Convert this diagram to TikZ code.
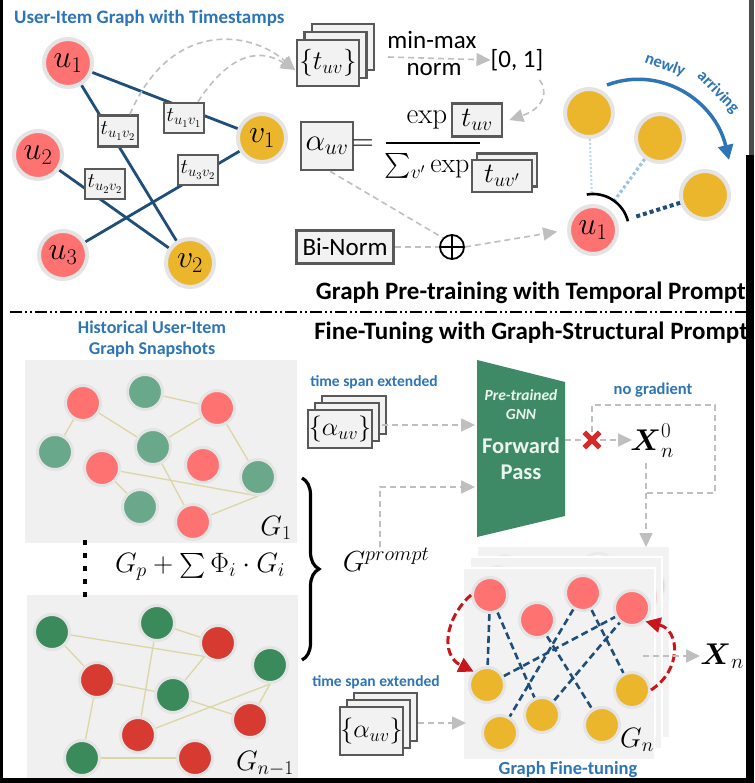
\RequirePackage{fix-cm}
\documentclass[tikz,border=0pt]{standalone}
\usepackage{amsmath}
\usepackage[no-math]{fontspec}
\setmainfont{Carlito}
\usetikzlibrary{arrows.meta,decorations.pathreplacing}
\definecolor{ured}{HTML}{FF7272}
\definecolor{vyel}{HTML}{EBB52C}
\definecolor{ringc}{HTML}{E4E4E4}
\definecolor{eblue}{HTML}{1F4E79}
\definecolor{boxc}{HTML}{595959}
\definecolor{boxf}{HTML}{F2F2F2}
\definecolor{dashc}{HTML}{BFBFBF}
\definecolor{tblue}{HTML}{2E75B6}
\definecolor{lblue}{HTML}{BDD7EE}
\definecolor{mblue}{HTML}{9DC3E6}
\definecolor{agreen}{HTML}{6AA88B}
\definecolor{bgreen}{HTML}{3A8A5C}
\definecolor{bred}{HTML}{D63A30}
\definecolor{panelc}{HTML}{F0F0F0}
\definecolor{gnnc}{HTML}{3F8A66}
\definecolor{khaki}{HTML}{DCD6A6}
\definecolor{dred}{HTML}{C8161C}
\definecolor{xred}{HTML}{D42A2A}
\definecolor{gnntext}{HTML}{EAF3EE}
\newcommand{\myfs}[1]{\fontsize{#1}{#1}\selectfont}
\pgfdeclarelayer{bg}\pgfdeclarelayer{edges}\pgfsetlayers{bg,edges,main}
\tikzset{
 ringnode/.style={circle, draw=ringc, inner sep=0pt},
 bignode/.style={ringnode, line width=4pt, minimum size=48pt, font=\myfs{32}},
 unode/.style={bignode, fill=ured},
 vnode/.style={bignode, fill=vyel},
 snode/.style={ringnode, line width=3pt, minimum size=35pt},
 ar/.style={snode, fill=ured},
 ag/.style={snode, fill=agreen},
 br/.style={snode, fill=bred},
 bg/.style={snode, fill=bgreen},
 yy/.style={snode, fill=vyel},
 ghost/.style={snode, fill=ured, opacity=0.35},
 ghostg/.style={snode, fill=white, opacity=0.6},
 tbox/.style={draw=boxc, fill=boxf, line width=2.5pt, inner sep=0pt},
 gdash/.style={draw=dashc, line width=1.6pt, dash pattern=on 6pt off 4pt},
 garrow/.style={gdash, -{Triangle[length=14pt,width=13pt,fill=dashc]}},
 bedge/.style={draw=eblue, line width=2.8pt},
 kedge/.style={draw=khaki, line width=1.3pt},
 dedge/.style={draw=eblue, line width=2.6pt, dash pattern=on 7pt off 4pt},
 rarrow/.style={draw=dred, line width=3pt, dash pattern=on 8pt off 4pt, -{Triangle[length=15pt,width=15pt,fill=dred]}},
 panel/.style={fill=panelc, inner sep=0pt, draw=none},
 gpanel/.style={fill=boxf, inner sep=0pt, draw=white, line width=1.2pt, minimum width=192pt, minimum height=192pt},
 bluetxt/.style={text=tblue, font=\bfseries\myfs{#1}, inner sep=0pt},
 head/.style={font=\bfseries\myfs{25}, inner sep=0pt, anchor=east},
 mathtxt/.style={font=\myfs{#1}, inner sep=0pt},
 gnntxt/.style={text=gnntext, inner sep=0pt}
}
\begin{document}
\begin{tikzpicture}[x=1pt,y=1pt]
\useasboundingbox (0,0) rectangle (754,-783);
\begin{pgfonlayer}{bg}
\fill[white] (0,0) rectangle (754,-783);
% snapshot panels
\node[panel, minimum width=272pt, minimum height=183pt] (p1) at (161,-451.5) {};
\node[panel, minimum width=271pt, minimum height=183pt] (p2) at (162.5,-686.5) {};
% G_n stacked panels
\node[gpanel] (pb) at (573.5,-642) {};
\node[ghost] (gh1) at (505,-573) {};
\node[ghostg] (gh2) at (598,-571) {};
\node[ghost] (gh3) at (647,-586) {};
\node[gpanel] (pm) at (566,-653) {};
\node[ghost] (gh4) at (497.5,-584) {};
\node[ghost] (gh5) at (639.5,-597) {};
\node[gpanel] (pf) at (559,-664) {};
\end{pgfonlayer}

% ---------------- top: user-item graph ----------------
\node[bluetxt=19, anchor=west] (title1) at (14,-18) {User-Item Graph with Timestamps};
\node[unode] (u1) at (68,-63) {$u_1$};
\node[unode] (u2) at (38,-155) {$u_2$};
\node[unode] (u3) at (63,-255) {$u_3$};
\node[vnode] (v1) at (262,-138) {$v_1$};
\node[vnode] (v2) at (190,-263) {$v_2$};
\begin{pgfonlayer}{edges}
\draw[bedge] (u1) -- (v1);
\draw[bedge] (u1) -- (v2);
\draw[bedge] (u2) -- (v2);
\draw[bedge] (u3) -- (v1);
\end{pgfonlayer}
\node[tbox, minimum width=40pt, minimum height=31pt, font=\myfs{21}] (tu1v2) at (118,-131) {$t_{u_1v_2}$};
\node[tbox, minimum width=40pt, minimum height=30pt, font=\myfs{21}] (tu1v1) at (184,-118) {$t_{u_1v_1}$};
\node[tbox, minimum width=40pt, minimum height=30pt, font=\myfs{21}] (tu2v2) at (105,-184) {$t_{u_2v_2}$};
\node[tbox, minimum width=40pt, minimum height=30pt, font=\myfs{21}] (tu3v2) at (198,-170) {$t_{u_3v_2}$};

% stack {t_uv}
\node[tbox, minimum width=62pt, minimum height=46pt] (ts3) at (343,-47) {};
\node[tbox, minimum width=62pt, minimum height=46pt] (ts2) at (335.5,-55) {};
\node[tbox, minimum width=62pt, minimum height=46pt, font=\myfs{27}] (ts1) at (328,-63) {$\{t_{uv}\}$};
\coordinate (tsin) at (295,-70);
\draw[garrow] ([xshift=12pt]tu1v2.north) .. controls (170,-20) and (250,-30) .. (tsin);
\draw[garrow] ([xshift=14pt]tu1v1.north) .. controls (225,-60) and (255,-45) .. (tsin);

\node[mathtxt=25] (minmax) at (432,-40) {min-max};
\node[mathtxt=25] (norm) at (434,-70) {norm};
\node[mathtxt=25] (zo) at (517,-60) {[0, 1]};
\coordinate (mm1) at (388,-57);
\draw[garrow] (mm1) -- (zo.west);

% alpha equation
\node[tbox, minimum width=52pt, minimum height=48pt, font=\myfs{31}] (alpha) at (327,-146) {$\alpha_{uv}$};
\node[mathtxt=30] (eq) at (363,-145) {$=$};
\node[mathtxt=29] (expn) at (427,-120) {$\exp$};
\node[tbox, minimum width=50pt, minimum height=33pt, font=\myfs{28}] (texp) at (477,-120) {$t_{uv}$};
\draw[line width=2.2pt] (386,-143) -- (480,-143);
\node[mathtxt=28] (sumd) at (427,-166) {$\textstyle\sum_{v'}\exp$};
\node[tbox, minimum width=60pt, minimum height=33pt] (td2) at (507,-170) {};
\node[tbox, minimum width=60pt, minimum height=32pt, font=\myfs{28}] (td1) at (502,-176) {$t_{uv'}$};
\draw[garrow] ([shift={(-4pt,-20pt)}]zo.east) .. controls (548,-90) and (545,-108) .. ([xshift=6pt]texp.east);

% Bi-Norm and oplus
\node[tbox, minimum width=97pt, minimum height=33pt, font=\myfs{25}] (bn) at (345,-247) {Bi-Norm};
\node[circle, draw, line width=1.8pt, minimum size=24pt, inner sep=0pt] (op) at (452,-247) {};
\draw[line width=1.8pt] (op.north) -- (op.south);
\draw[line width=1.8pt] (op.west) -- (op.east);
\draw[gdash] (bn.east) -- (op.west);
\draw[gdash] ([xshift=3pt]alpha.south) -- (op.north west);

% right: temporal neighbours
\node[unode] (u1b) at (593,-230) {$u_1$};
\node[vnode] (ya) at (589,-113) {};
\node[vnode] (yb) at (660,-138) {};
\node[vnode] (yc) at (705,-195) {};
\draw[garrow, shorten >=10pt] (op.east) -- (u1b.west);
\begin{pgfonlayer}{edges}
\draw[draw=lblue, line width=2pt, dash pattern=on 2pt off 2pt, shorten >=9pt] (ya) -- (u1b);
\draw[draw=mblue, line width=3.2pt, dash pattern=on 3pt off 2.5pt, shorten >=10pt] (yb) -- (u1b);
\draw[draw=eblue, line width=4pt, dash pattern=on 4pt off 3pt, shorten >=19pt] (yc) -- (u1b);
\end{pgfonlayer}
\draw[line width=2.6pt] (u1b.center) ++(100:36) arc (100:14:36);
\coordinate (na1) at (607,-85);
\coordinate (na2) at (729,-160);
\draw[draw=tblue, line width=3.5pt, -{Triangle[length=15pt,width=15pt]}] (na1) .. controls (660,-65) and (715,-100) .. (na2);
\node[bluetxt=16.5, rotate=-20] (nw1) at (665,-65) {newly};
\node[bluetxt=16.5, rotate=-46] (nw2) at (718,-92) {arriving};

% section headings
\node[head] (h1) at (746,-293) {Graph Pre-training with Temporal Prompt};
\draw[line width=2pt, dash pattern=on 12pt off 3pt on 2pt off 3pt on 2pt off 3pt] (10,-312) -- (746,-312);
\node[head] (h2) at (748,-333) {Fine-Tuning with Graph-Structural Prompt};

% ---------------- bottom left: snapshots ----------------
\node[bluetxt=18, align=center] (hist) at (152,-339) {Historical User-Item\\[3pt]Graph Snapshots};
\node[ar] (a1) at (83,-403) {};
\node[ag] (a2) at (145,-392) {};
\node[ar] (a3) at (217,-408) {};
\node[ag] (a4) at (55,-452) {};
\node[ag] (a5) at (153,-447) {};
\node[ar] (a6) at (203,-465) {};
\node[ar] (a7) at (102,-468) {};
\node[ag] (a8) at (258,-477) {};
\node[ag] (a9) at (140,-507) {};
\node[ar] (a10) at (193,-522) {};
\begin{pgfonlayer}{edges}
\draw[kedge] (a1) -- (a4);
\draw[kedge] (a1) -- (a5);
\draw[kedge] (a2) -- (a3);
\draw[kedge] (a5) -- (a3);
\draw[kedge] (a3) -- (a8);
\draw[kedge] (a7) -- (a8.south);
\draw[kedge] (a7) -- (a9);
\draw[kedge] (a5) -- (a10);
\draw[kedge] (a10) -- (a8.south);
\end{pgfonlayer}
\node[mathtxt=28] (g1) at (276,-528) {$G_1$};

\draw[line width=4.5pt, dash pattern=on 4.5pt off 8.5pt] (85,-540) -- (85,-602);
\node[mathtxt=28] (gsum) at (200,-567) {$G_p+\sum\Phi_i\cdot G_i$};

\node[bg] (b1) at (52,-632) {};
\node[bg] (b2) at (157,-623) {};
\node[br] (b3) at (218,-643) {};
\node[bg] (b4) at (270,-665) {};
\node[br] (b5) at (97,-680) {};
\node[bg] (b6) at (173,-695) {};
\node[br] (b7) at (250,-720) {};
\node[br] (b8) at (138,-735) {};
\node[bg] (b9) at (82,-758) {};
\node[br] (b10) at (195,-758) {};
\begin{pgfonlayer}{edges}
\draw[kedge] (b1) -- (b3.south west);
\draw[kedge] (b1) -- (b5);
\draw[kedge] (b2) -- (b3);
\draw[kedge] (b2) -- (b8);
\draw[kedge] (b5) -- (b6);
\draw[kedge] (b6) -- (b3.south west);
\draw[kedge] (b5) -- (b9);
\draw[kedge] (b6) -- (b7);
\draw[kedge] (b8) -- (b4.south);
\draw[kedge] (b7) -- (b4.south);
\draw[kedge] (b9) -- (b10);
\end{pgfonlayer}
\node[mathtxt=28] (gn1) at (265,-764) {$G_{n-1}$};

% brace and G^prompt
\draw[decorate, decoration={brace, amplitude=17pt}, line width=3.2pt] (302,-478) -- (302,-660);
\node[mathtxt=29] (gp) at (386,-560) {$G^{prompt}$};

% ---------------- middle: GNN ----------------
\node[bluetxt=15.5] (tse1) at (374,-382) {time span extended};
\node[tbox, minimum width=64pt, minimum height=38pt] (as13) at (354,-415) {};
\node[tbox, minimum width=64pt, minimum height=38pt] (as12) at (347,-422) {};
\node[tbox, minimum width=64pt, minimum height=38pt, font=\myfs{26}] (as11) at (340,-429) {$\{\alpha_{uv}\}$};

\fill[gnnc] (477,-360) -- (565,-382) -- (565,-516) -- (477,-537) -- cycle;
\coordinate (gin1) at (475,-425);
\coordinate (gin2) at (475,-487);
\coordinate (gout) at (565,-440);
\node[gnntxt, font=\bfseries\itshape\myfs{15.5}] (pt1) at (521,-395) {Pre-trained};
\node[gnntxt, font=\bfseries\itshape\myfs{15.5}] (pt2) at (521,-414) {GNN};
\node[gnntxt, font=\bfseries\myfs{22.5}] (fw1) at (521,-446) {Forward};
\node[gnntxt, font=\bfseries\myfs{22.5}] (fw2) at (521,-472) {Pass};
\coordinate (as1out) at (382,-425);
\draw[garrow] (as1out) -- (gin1);
\coordinate (gpc) at (380,-547);
\draw[garrow] (gpc) -- (380,-487) -- (gin2);

\node[inner sep=0pt, minimum size=15pt] (xm) at (592,-440) {};
\draw[gdash] (gout) -- (xm.west);
\draw[garrow] (xm.east) -- (632,-440);
\draw[xred, line width=5pt] (xm.north west) -- (xm.south east);
\draw[xred, line width=5pt] (xm.north east) -- (xm.south west);
\node[mathtxt=30] (x0) at (652,-441) {$\boldsymbol{X}_n^0$};
\node[bluetxt=16.5] (nog) at (653,-390) {no gradient};
\draw[gdash] (xm.north) -- (592,-405) -- (715,-405) -- (715,-493) -- (646,-493);
\draw[garrow] (646,-463) -- (646,-547);

% ---------------- bottom right: G_n ----------------
\node[ar] (r1) at (490,-595) {};
\node[ar] (r2) at (537,-620) {};
\node[ar] (r3) at (583,-593) {};
\node[ar] (r4) at (632,-608) {};
\node[yy] (y1) at (487,-685) {};
\node[yy] (y2) at (500,-733) {};
\node[yy] (y3) at (542,-715) {};
\node[yy] (y4) at (602,-725) {};
\node[yy] (y5) at (632,-690) {};
\begin{pgfonlayer}{edges}
\draw[dedge] (r1) -- (y1);
\draw[dedge] (r1) -- (y3);
\draw[dedge] (r2) -- (y4);
\draw[dedge] (y1) -- (r4);
\draw[dedge] (y3) -- (r4);
\draw[dedge] (r3) -- (y2);
\draw[dedge] (r3) -- (y5);
\end{pgfonlayer}
\draw[rarrow] (r1.west) .. controls (445,-618) and (440,-655) .. (y1.north west);
\draw[rarrow] (y5.east) .. controls (682,-670) and (680,-630) .. (r4.south east);
\node[mathtxt=28] (gnl) at (637,-740) {$G_n$};
\node[bluetxt=18.5] (gft) at (568,-770) {Graph Fine-tuning};
\coordinate (xs) at (643,-656);
\node[mathtxt=30] (xn) at (722,-656) {$\boldsymbol{X}_n$};
\draw[garrow] (xs) -- (xn.west);

\node[bluetxt=15.5] (tse2) at (376,-682) {time span extended};
\node[tbox, minimum width=63pt, minimum height=48pt] (as23) at (385.5,-717) {};
\node[tbox, minimum width=63pt, minimum height=48pt] (as22) at (378.5,-724) {};
\node[tbox, minimum width=63pt, minimum height=48pt, font=\myfs{26}] (as21) at (371.5,-731) {$\{\alpha_{uv}\}$};
\coordinate (as2in) at (466,-723);
\draw[garrow] ([yshift=-6pt]as23.east) -- (as2in);

% frame artefacts
\fill[black] (0,0) rectangle (2.5,-783);
\fill[black] (0,-778) rectangle (754,-783);
\fill[black] (746,-155) rectangle (754,-783);
\fill[black!70] (749,0) rectangle (754,-155);
\end{tikzpicture}
\end{document}
